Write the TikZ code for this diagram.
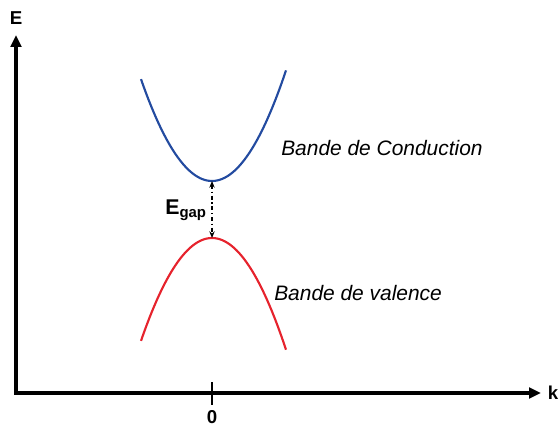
\documentclass[tikz,border=0pt]{standalone}
\usepackage{fontspec}
\setmainfont{Liberation Sans}
\usetikzlibrary{arrows.meta}

\definecolor{condblue}{RGB}{35,75,160}
\definecolor{valred}{RGB}{230,35,45}

\begin{document}
\begin{tikzpicture}[x=0.75pt,y=-0.75pt,>=Stealth]
  \useasboundingbox (0,0) rectangle (560,428);
  \tikzset{
    axis/.style={line width=2.4pt,-{Triangle[length=9pt,width=8pt]}},
    band/.style={line width=1.6pt},
    bandlabel/.style={font=\fontsize{15.7}{18}\selectfont\itshape,anchor=west,inner sep=0pt},
    axlabel/.style={font=\fontsize{14}{16}\selectfont\bfseries,inner sep=0pt}
  }
  % axes
  \coordinate (origin) at (16,393);
  \coordinate (etop) at (16,35);
  \coordinate (kend) at (541,393);
  \draw[axis] (origin) -- (etop);
  \draw[axis] ([xshift=-1.2pt]origin) -- (kend);
  \node[axlabel] (elabel) at (16,18) {E};
  \node[axlabel] (klabel) at (553,393) {k};
  % tick at k = 0
  \coordinate (ticktop) at (212,382);
  \coordinate (tickbot) at (212,405);
  \draw[line width=1.6pt] (ticktop) -- (tickbot);
  \node[axlabel] (zero) at (212,417) {0};
  % bands
  \draw[band,condblue] plot[domain=-71:74,samples=60,smooth] ({212+\x},{181-0.0202*\x*\x});
  \draw[band,valred] plot[domain=-71:74,samples=60,smooth] ({212+\x},{238+0.0204*\x*\x});
  \coordinate (cmin) at (212,181);
  \coordinate (vmax) at (212,238);
  \node[bandlabel] (cond) at (281,148) {Bande de Conduction};
  \node[bandlabel] (val) at (274,293) {Bande de valence};
  % gap
  \draw[line width=1pt,dash dot,{Stealth[length=5pt,width=4pt]}-{Stealth[length=5pt,width=4pt]}] (cmin) -- (vmax);
  \node[font=\fontsize{16}{18}\selectfont\bfseries,inner sep=0pt] (egap) at (186,210) {E\textsubscript{gap}};
\end{tikzpicture}
\end{document}
